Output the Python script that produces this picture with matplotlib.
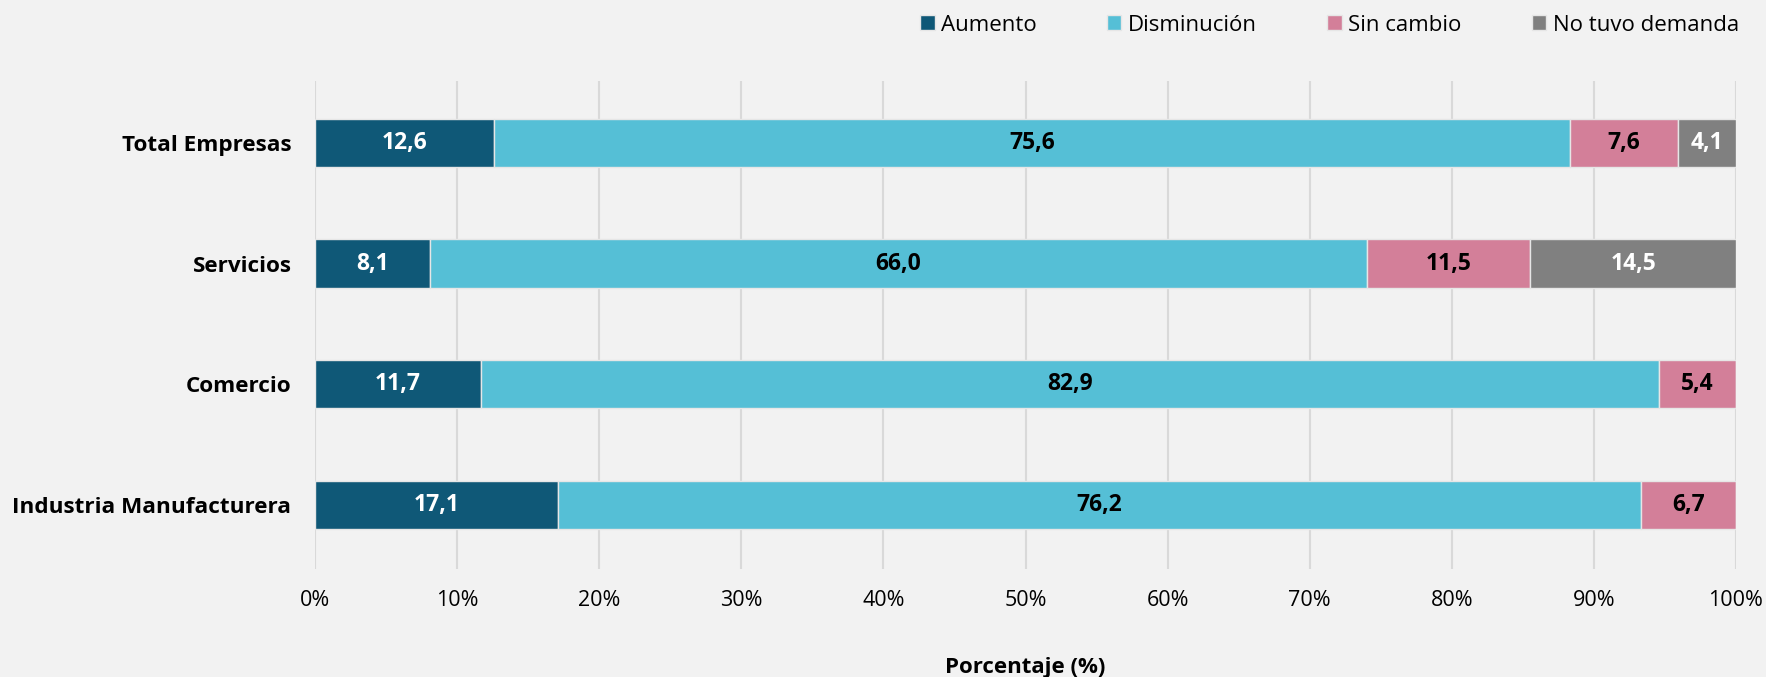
import numpy as np
from matplotlib import pyplot as plt

plt.rcParams['font.family'] = ['Open Sans', 'DejaVu Sans']

categorias = ['Industria Manufacturera', 'Comercio', 'Servicios', 'Total Empresas']
series = ['Aumento', 'Disminución', 'Sin cambio', 'No tuvo demanda']
aumento = [17.1, 11.7, 8.1, 12.6]
disminucion = [76.2, 82.9, 66.0, 75.6]
sin_cambio = [6.7, 5.4, 11.5, 7.6]
no_demanda = [0.0, 0.0, 14.5, 4.1]
ticks = [0, 10, 20, 30, 40, 50, 60, 70, 80, 90, 100]

colores = ['#0F5877', '#55BFD6', '#D37F99', '#808080']
color_texto = ['white', 'black', 'black', 'white']
bg = '#F2F2F2'

datos = np.array([aumento, disminucion, sin_cambio, no_demanda])
totales = datos.sum(axis=0)
pct = datos / totales * 100  # 100% apilado

fig = plt.figure(figsize=(17.66, 6.77), dpi=100, facecolor=bg)
ax = fig.add_axes([0.1784, 0.1595, 0.8046, 0.7205], facecolor=bg)

y = np.arange(len(categorias))
izq = np.zeros(len(categorias))
for i, nombre in enumerate(series):
    ax.barh(y, pct[i], left=izq, height=0.4, color=colores[i],
            edgecolor='#E6E6E6', linewidth=1, label=nombre, zorder=3)
    for j in range(len(categorias)):
        if datos[i, j] > 0:
            ax.text(izq[j] + pct[i, j] / 2, y[j], f'{datos[i, j]:.1f}'.replace('.', ','),
                    ha='center', va='center', fontsize=16.5, fontweight='bold',
                    color=color_texto[i], zorder=4)
    izq += pct[i]

ax.set_xlim(0, 100)
ax.set_ylim(-0.53, 3.51)
ax.set_xticks(ticks)
ax.set_xticklabels([f'{t}%' for t in ticks], fontsize=15.5)
ax.set_yticks(y)
ax.set_yticklabels(categorias, fontsize=16.2, fontweight='bold')
ax.tick_params(axis='x', length=0, pad=15)
ax.tick_params(axis='y', length=0, pad=17)
ax.grid(axis='x', color='#D9D9D9', linewidth=1.5, zorder=0)
for s in ax.spines.values():
    s.set_visible(False)
ax.set_xlabel('Porcentaje (%)', fontsize=16, fontweight='bold', labelpad=33)

fig.legend(loc='upper right', bbox_to_anchor=(0.996, 1.008), ncol=4, frameon=False,
           fontsize=16, handlelength=0.65, handleheight=0.65, handletextpad=0.3,
           columnspacing=3.15)

plt.savefig('out.png', dpi=100, facecolor=bg)
